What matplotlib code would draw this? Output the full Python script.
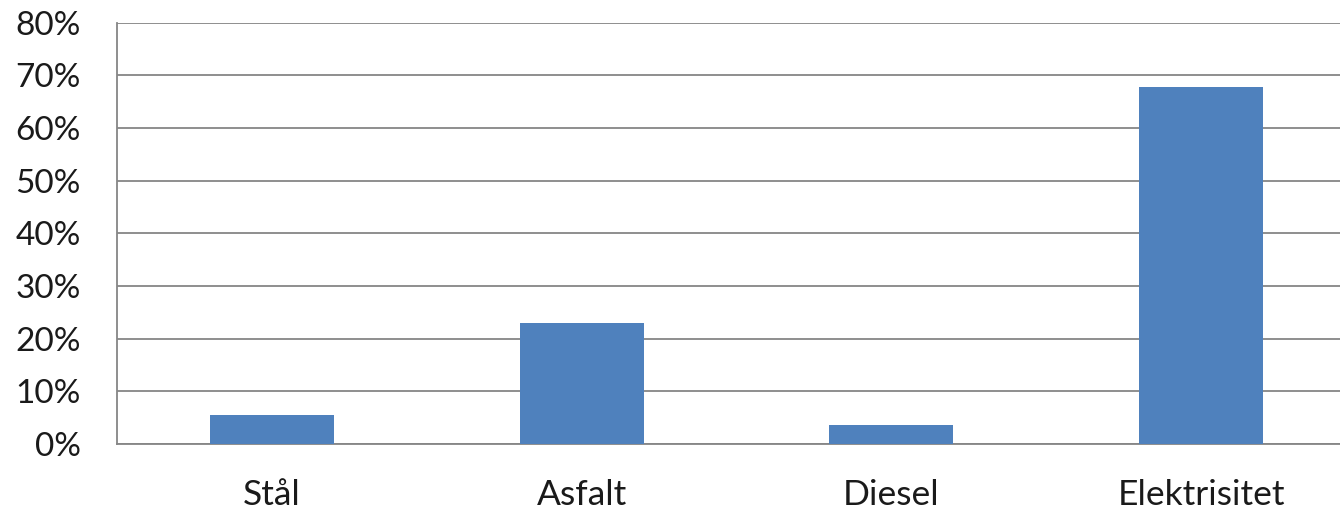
import matplotlib

matplotlib.use("Agg")
import matplotlib.pyplot as plt
from matplotlib.ticker import FuncFormatter

categories = ["Stål", "Asfalt", "Diesel", "Elektrisitet"]
shares = [5.5, 23.0, 3.6, 67.7]
y_ticks = [0, 10, 20, 30, 40, 50, 60, 70, 80]

BAR_COLOR = "#4F81BD"
GRID_COLOR = "#868686"

plt.rcParams["font.family"] = ["Lato", "DejaVu Sans"]

fig = plt.figure(figsize=(13.4, 5.15), dpi=100)
# axes runs slightly past the right edge, as in the cropped reference
ax = fig.add_axes([0.0873, 0.1379, 0.9246, 0.8184])

x = range(len(categories))
ax.bar(x, shares, width=0.40, color=BAR_COLOR, zorder=3)

ax.set_xlim(-0.5, len(categories) - 0.5)
ax.set_ylim(0, 80)
ax.set_yticks(y_ticks)
ax.yaxis.set_major_formatter(FuncFormatter(lambda v, _: f"{v:.0f}%"))
ax.set_xticks(list(x))
ax.set_xticklabels(categories)

ax.grid(axis="y", color=GRID_COLOR, linewidth=1.3, zorder=0)
ax.tick_params(axis="both", length=0, colors="#1a1a1a")
ax.tick_params(axis="y", pad=26, labelsize=24)
ax.tick_params(axis="x", pad=25, labelsize=25.5)

for side in ("top", "right"):
    ax.spines[side].set_visible(False)
for side in ("left", "bottom"):
    ax.spines[side].set_color(GRID_COLOR)
    ax.spines[side].set_linewidth(1.3)

fig.savefig("out.png", dpi=100)
